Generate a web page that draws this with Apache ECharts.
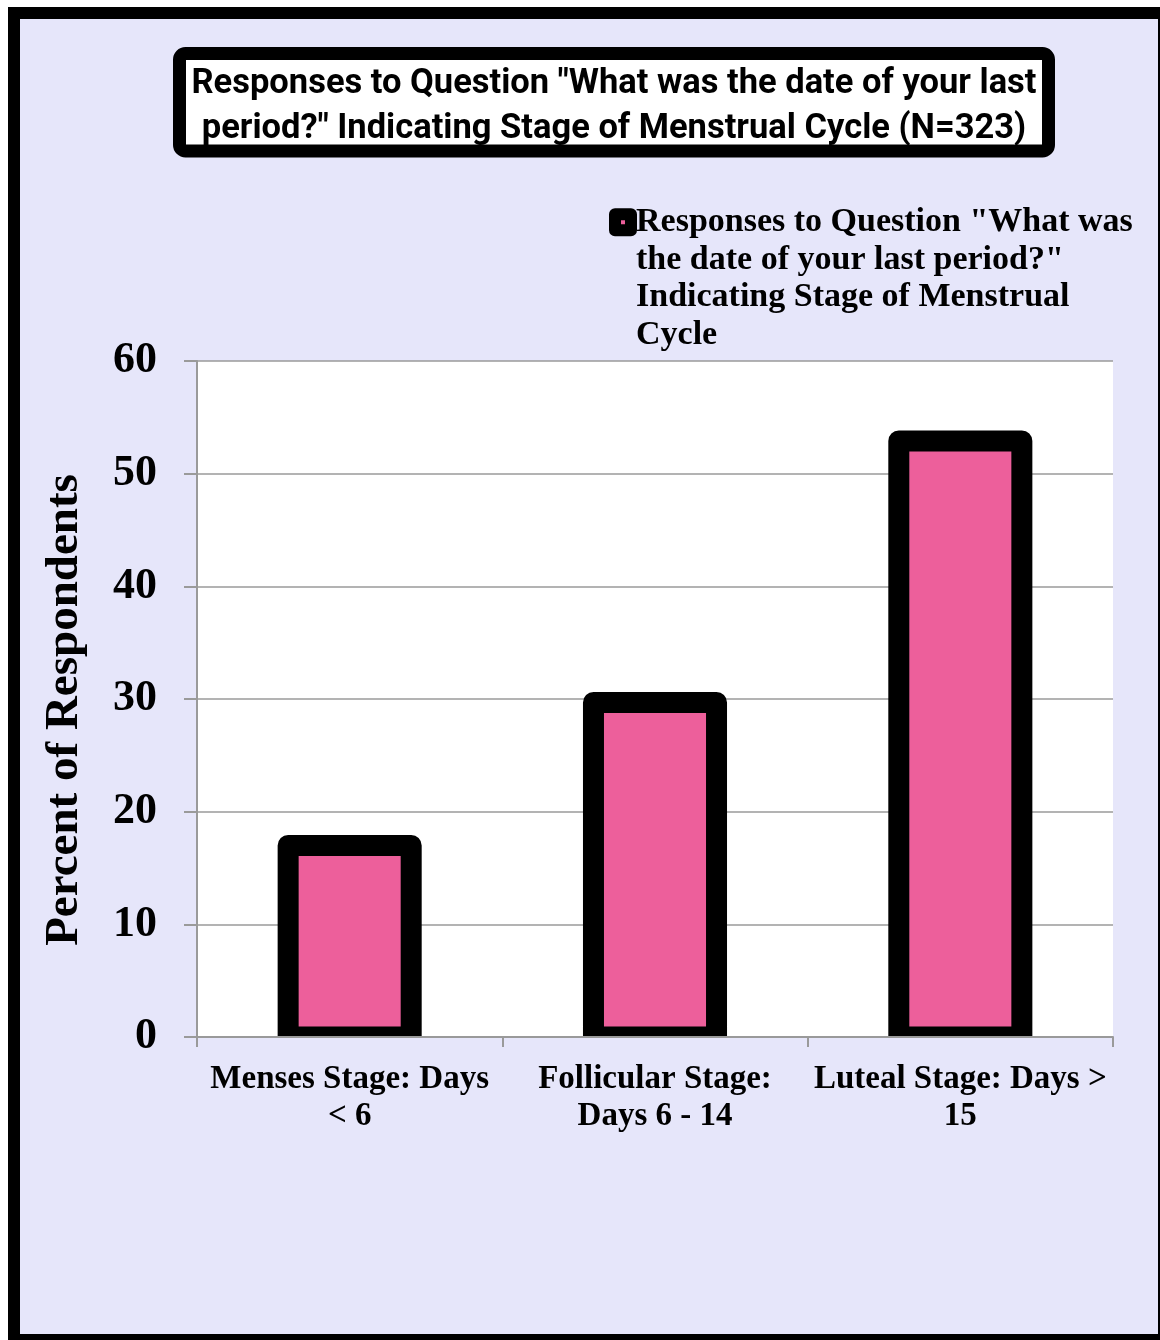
<!DOCTYPE html>
<html>
<head>
<meta charset="utf-8">
<style>
  html, body { margin: 0; padding: 0; background: #ffffff; }
  #chart { width: 1160px; height: 1340px; }
</style>
<script src="https://cdn.jsdelivr.net/npm/echarts@6/dist/echarts.min.js"></script>
</head>
<body>
<div id="chart"></div>
<script>
// Chart data
const titleLines = [
  'Responses to Question "What was the date of your last',
  'period?" Indicating Stage of Menstrual Cycle (N=323)'
];
const seriesName = 'Responses to Question "What was the date of your last period?" Indicating Stage of Menstrual Cycle';
const categories = [
  'Menses Stage: Days\n< 6',
  'Follicular Stage:\nDays 6 - 14',
  'Luteal Stage: Days >\n15'
];
const percentValues = [17.0, 29.7, 52.9];
const yTicks = { min: 0, max: 60, interval: 10 };
const yAxisTitle = 'Percent of Respondents';

// Greedy word wrap by character count
function wrapWords(text, maxChars) {
  const words = text.split(' ');
  const lines = [];
  let cur = '';
  words.forEach(function (w) {
    const next = cur ? cur + ' ' + w : w;
    if (next.length > maxChars && cur) { lines.push(cur); cur = w; }
    else { cur = next; }
  });
  if (cur) lines.push(cur);
  return lines;
}

const BG = '#E6E6FA';
const PINK = '#ED5F9B';
const GRIDGRAY = '#9a9a9a';
const SERIF = '"Liberation Serif", "Times New Roman", serif';
const BAR_RATIO = 0.403;   // bar width as a share of the category band
const BAR_BORDER = 21;

const chart = echarts.init(document.getElementById('chart'), null, { renderer: 'canvas' });

// Bars with the thick outline centred on the bar edge
function renderBar(params, api) {
  const idx = api.value(0);
  const top = api.coord([idx, api.value(1)]);
  const base = api.coord([idx, 0]);
  const w = api.size([1, 0])[0] * BAR_RATIO;
  return {
    type: 'rect',
    shape: { x: top[0] - w / 2, y: top[1], width: w, height: base[1] - top[1] },
    style: { fill: PINK, stroke: '#000', lineWidth: BAR_BORDER, lineJoin: 'round' }
  };
}

const option = {
  backgroundColor: BG,
  animation: false,
  grid: {
    left: 197, right: 47, top: 361, bottom: 303,
    show: true, backgroundColor: '#ffffff', borderWidth: 0
  },
  legend: {
    data: [seriesName],
    left: 609,
    top: 91,
    padding: 0,
    icon: 'rect',
    itemWidth: 16,
    itemHeight: 16,
    itemStyle: { color: PINK, borderColor: '#000', borderWidth: 12, borderJoin: 'round' },
    // blank leading lines keep the first text line level with the icon
    formatter: function (name) { return '\n\n\n' + wrapWords(name, 32).join('\n'); },
    textStyle: {
      fontFamily: SERIF, fontWeight: 'bold', fontSize: 34, lineHeight: 37.5, color: '#000'
    }
  },
  xAxis: {
    type: 'category',
    data: categories,
    z: 10,
    axisLine: { show: true, lineStyle: { color: GRIDGRAY, width: 2 } },
    axisTick: { show: true, length: 10, lineStyle: { color: GRIDGRAY, width: 2 } },
    axisLabel: {
      fontFamily: SERIF, fontWeight: 'bold', fontSize: 33, lineHeight: 37,
      color: '#000', margin: 24, interval: 0
    }
  },
  yAxis: {
    type: 'value',
    min: yTicks.min, max: yTicks.max, interval: yTicks.interval,
    name: yAxisTitle,
    nameLocation: 'middle',
    nameRotate: 90,
    nameGap: 109,
    nameTextStyle: {
      fontFamily: SERIF, fontWeight: 'bold', fontSize: 47, color: '#000',
      padding: [0, 22, 0, 0]
    },
    axisLine: { show: true, lineStyle: { color: GRIDGRAY, width: 2 } },
    axisTick: { show: true, length: 13, lineStyle: { color: GRIDGRAY, width: 2 } },
    axisLabel: {
      fontFamily: SERIF, fontWeight: 'bold', fontSize: 44, color: '#000', margin: 40
    },
    splitLine: { show: true, lineStyle: { color: GRIDGRAY, width: 1.5 } }
  },
  series: [{
    name: seriesName,
    type: 'custom',
    renderItem: renderBar,
    encode: { x: 0, y: 1 },
    data: percentValues.map(function (v, i) { return [i, v]; })
  }],
  graphic: [
    // white margin outside the frame
    { type: 'rect', z: 0, shape: { x: 0, y: 0, width: 1160, height: 8 }, style: { fill: '#fff' }, silent: true },
    { type: 'rect', z: 0, shape: { x: 0, y: 0, width: 8, height: 1340 }, style: { fill: '#fff' }, silent: true },
    // outer frame
    { type: 'rect', z: 20, shape: { x: 14, y: 13, width: 1150, height: 1327 },
      style: { fill: null, stroke: '#000', lineWidth: 12 }, silent: true },
    // strip below the baseline hiding the lower half of the bar outlines
    { type: 'rect', z: 5, shape: { x: 190, y: 1038, width: 930, height: 14 }, style: { fill: BG }, silent: true },
    // title box
    { type: 'rect', z: 20, shape: { x: 179.5, y: 53.5, width: 869, height: 97.5, r: 6 },
      style: { fill: '#fff', stroke: '#000', lineWidth: 13 }, silent: true },
    { type: 'text', z: 21, x: 614, y: 107,
      style: {
        text: titleLines.join('\n'), align: 'center', verticalAlign: 'middle',
        font: 'bold 34.5px Roboto, "Open Sans", sans-serif', lineHeight: 45, fill: '#000'
      }, silent: true }
  ]
};

chart.setOption(option);
</script>
</body>
</html>
